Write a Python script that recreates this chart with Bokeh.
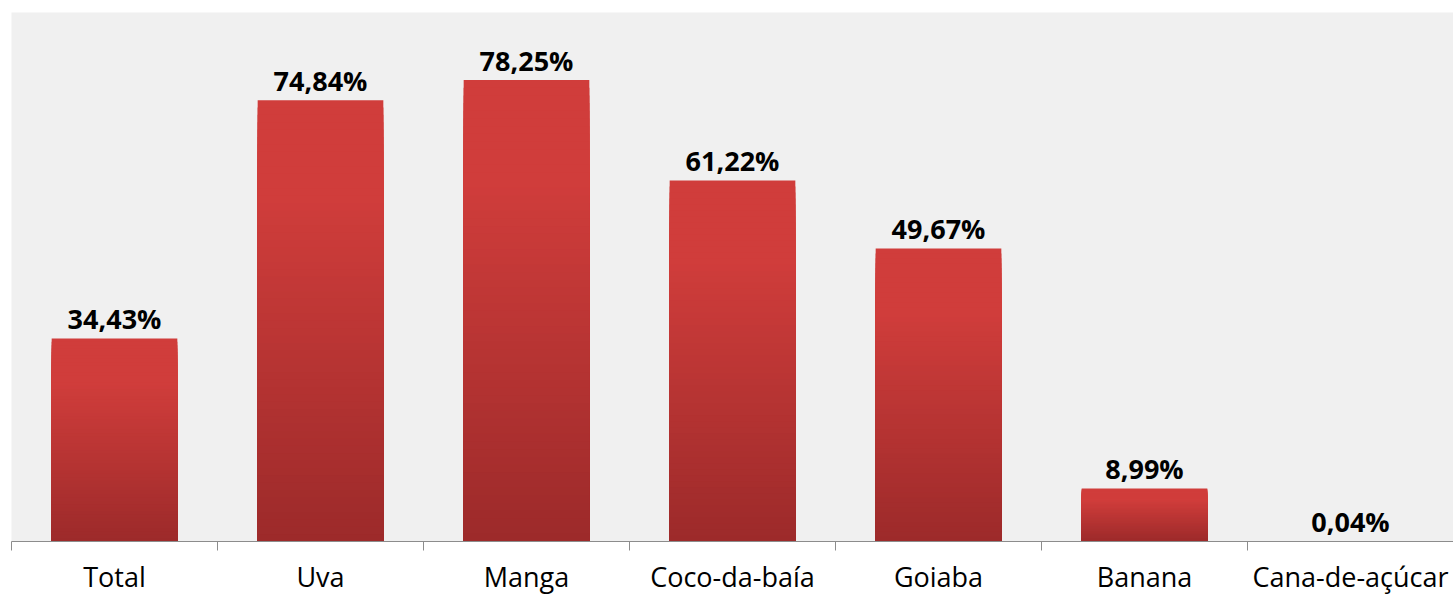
from bokeh.plotting import figure
from bokeh.models import FixedTicker, Range1d, ColumnDataSource
from bokeh.core.properties import value
from bokeh.embed import file_html
from bokeh.resources import INLINE

# ---- data ----
categories = ["Total", "Uva", "Manga", "Coco-da-baía", "Goiaba", "Banana", "Cana-de-açúcar"]
values = [34.43, 74.84, 78.25, 61.22, 49.67, 8.99, 0.04]
value_labels = ["34,43%", "74,84%", "78,25%", "61,22%", "49,67%", "8,99%", "0,04%"]

# ---- style ----
BAR_W = 0.61
LIGHT = (208, 61, 59)
DARK = (156, 42, 42)
N_SLICES = 60
AXIS_COLOR = "#8c8c8c"

n = len(categories)
centers = [i + 0.5 for i in range(n)]
bounds = [float(i) for i in range(n + 1)]


def mix(t):
    # t: 0 at bottom, 1 at top
    s = min(1.0, t / 0.78)
    r = [round(DARK[k] + (LIGHT[k] - DARK[k]) * s) for k in range(3)]
    return "#%02x%02x%02x" % tuple(r)


# gradient: nested rects from the base, tallest (lightest) drawn first
left, right, bottom, top, colors = [], [], [], [], []
for k in range(N_SLICES, 0, -1):
    for c, v in zip(centers, values):
        left.append(c - BAR_W / 2)
        right.append(c + BAR_W / 2)
        bottom.append(0)
        top.append(v * k / N_SLICES)
        colors.append(mix((k - 0.5) / N_SLICES))

p = figure(
    width=1453, height=597,
    output_backend="svg", toolbar_location=None,
    x_range=Range1d(0, n), y_range=Range1d(0, 89.7),
    y_axis_location=None,
    min_border_left=11, min_border_right=0, min_border_top=12, min_border_bottom=56,
)
p.background_fill_color = "#f0f0f0"
p.border_fill_color = "white"
p.outline_line_color = None
p.xgrid.visible = False
p.ygrid.visible = False

src = ColumnDataSource(dict(left=left, right=right, bottom=bottom, top=top, color=colors))
p.quad(left="left", right="right", bottom="bottom", top="top", source=src,
       fill_color="color", line_color=None)

p.text(x=centers, y=values, text=value_labels,
       text_align="center", text_baseline="alphabetic", y_offset=-20,
       text_font=value("Open Sans"), text_font_style="bold",
       text_font_size="27px", text_color="black")

ax = p.xaxis[0]
ax.ticker = FixedTicker(ticks=centers, minor_ticks=bounds)
ax.major_label_overrides = {c: name for c, name in zip(centers, categories)}
ax.major_tick_line_color = None
ax.major_tick_in = 0
ax.major_tick_out = 0
ax.minor_tick_in = 0
ax.minor_tick_out = 9
ax.minor_tick_line_color = AXIS_COLOR
ax.axis_line_color = AXIS_COLOR
ax.axis_line_width = 1.2
ax.major_label_standoff = 7
ax.major_label_text_font = "Open Sans"
ax.major_label_text_font_size = "27px"
ax.major_label_text_line_height = 0.8
ax.major_label_text_color = "black"

open("out.html", "w").write(file_html(p, INLINE))
